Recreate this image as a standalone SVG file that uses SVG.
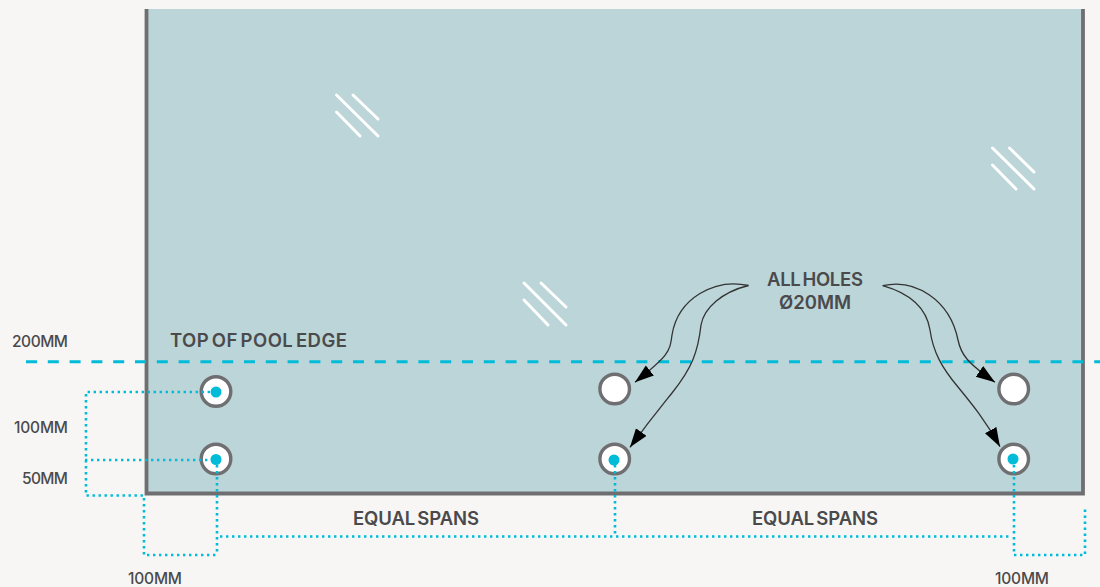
<svg xmlns="http://www.w3.org/2000/svg" width="1100" height="587" viewBox="0 0 1100 587">
<style>
text{font-family:"Inter","Liberation Sans",sans-serif;fill:#4a4a4c}
.l{font-size:15.5px;font-weight:500}.b{font-size:18.5px;font-weight:600;word-spacing:-2.5px}
.hole{fill:#fff;stroke:#6f6f72;stroke-width:3.4}
.dot{fill:#00bcd9}
.dotted{fill:none;stroke:#00bcd9;stroke-width:2.6;stroke-dasharray:2.4 3.6}
.dash{fill:none;stroke:#00bcd9;stroke-width:3;stroke-dasharray:11 10.8}
.lead{fill:none;stroke:#333;stroke-width:1.3}
.gl{stroke:#fff;stroke-width:3;stroke-linecap:round}
</style>
<defs><marker id="ah" markerUnits="userSpaceOnUse" markerWidth="20" markerHeight="14" refX="19" refY="6.5" orient="auto"><path d="M0 0L19 6.5L0 13Z" fill="#000"/></marker></defs>
<rect width="1100" height="587" fill="#f7f6f4"/>
<g id="panel"><path d="M146.500 9V493.500H1083V9" fill="#bcd5d8" stroke="#6f6f72" stroke-width="3.800"/></g>
<g id="glass">
<path class="gl" d="M336.500 95L378 136M353 95L378 119M336.500 112L360 136"/>
<path class="gl" d="M992.500 148L1034 189M1009.500 148L1034 172M992.500 165L1016 189"/>
<path class="gl" d="M524 283L566 325M541 283L566 307M524 300L548 325"/>
</g>
<g id="hole-1"><circle class="hole" cx="216" cy="391.500" r="14.800"/><circle class="dot" cx="216" cy="392" r="5.500"/></g>
<g id="hole-2"><circle class="hole" cx="216" cy="459" r="14.800"/><circle class="dot" cx="216" cy="459.500" r="5.500"/></g>
<g id="hole-3"><circle class="hole" cx="614.700" cy="389" r="14.800"/></g>
<g id="hole-4"><circle class="hole" cx="614.700" cy="459" r="14.800"/><circle class="dot" cx="614" cy="460" r="5.500"/></g>
<g id="hole-5"><circle class="hole" cx="1013.700" cy="389" r="14.800"/></g>
<g id="hole-6"><circle class="hole" cx="1013.700" cy="459" r="14.800"/><circle class="dot" cx="1013" cy="459" r="5.500"/></g>
<g id="connectors">
<path class="dash" d="M26 361.700H1100"/>
<path class="dotted" d="M216 392H86V495.500H143M85 460H216M144 498V555H216M217 465V555M220 536.500H1012M615 465V536M1014 465V555H1085V507"/>
<path class="lead" marker-end="url(#ah)" d="M748.500 285.500C715 278 678 298 672 335C670 352 668 356 635 382.300"/>
<path class="lead" marker-end="url(#ah)" d="M748.500 285.500C722 292 704 308 701 325C698 352 692 368 672 393C660 408 650 420 630 447.300"/>
<path class="lead" marker-end="url(#ah)" d="M882.700 285.700C915 278 950 300 958 340C961 354 966 362 995 382.300"/>
<path class="lead" marker-end="url(#ah)" d="M882.700 285.700C905 292 926 305 930 330C933 352 942 368 958 387C972 404 985 420 1000 446.700"/>
</g>
<g id="labels">
<text class="b" x="170" y="347" textLength="177">TOP OF POOL EDGE</text>
<text class="b" x="353" y="524.500" textLength="126">EQUAL SPANS</text>
<text class="b" x="752" y="524.500" textLength="126">EQUAL SPANS</text>
<text class="b" x="767" y="286" textLength="96">ALL HOLES</text>
<text class="b" x="779" y="309" textLength="72">Ø20MM</text>
<text class="l" x="12" y="347" textLength="56">200MM</text>
<text class="l" x="14" y="432.500" textLength="54">100MM</text>
<text class="l" x="22" y="484" textLength="46">50MM</text>
<text class="l" x="128" y="584" textLength="54">100MM</text>
<text class="l" x="995" y="584" textLength="54">100MM</text>
</g>
</svg>
